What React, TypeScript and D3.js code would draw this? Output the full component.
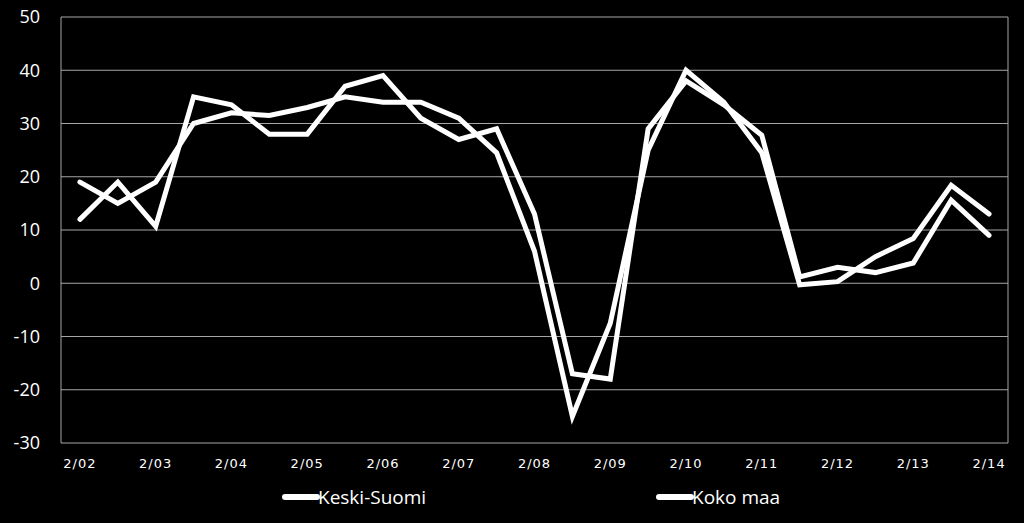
import { useMemo } from "react";
import * as d3 from "d3";

const periods = [
  "2/02", "8/02", "2/03", "8/03", "2/04", "8/04", "2/05", "8/05", "2/06",
  "8/06", "2/07", "8/07", "2/08", "8/08", "2/09", "8/09", "2/10", "8/10",
  "2/11", "8/11", "2/12", "8/12", "2/13", "8/13", "2/14",
];

const keskiSuomi = [
  19, 15, 19, 30, 32, 31.5, 33, 35, 34, 34, 31, 24.5, 6, -25, -7.5, 25, 40,
  34, 24.5, -0.3, 0.3, 5, 8.4, 18.4, 13,
];

const kokoMaa = [
  12, 19, 10.7, 35, 33.5, 28, 28, 37, 39, 31, 27, 29, 13, -17, -18, 29, 38,
  33.5, 27.8, 1.2, 3, 2, 3.8, 15.6, 9,
];

const yTicks = [-30, -20, -10, 0, 10, 20, 30, 40, 50];

const seriesNames = ["Keski-Suomi", "Koko maa"];

const dimensions = {
  width: 1024,
  height: 523,
  margin: { top: 17, right: 16, bottom: 80, left: 61 },
};

export default function App() {
  const { width, height, margin } = dimensions;
  const innerW = width - margin.left - margin.right;
  const innerH = height - margin.top - margin.bottom;

  const xScale = useMemo(
    () => d3.scalePoint().domain(periods).range([0, innerW]).padding(0.5),
    [innerW]
  );

  const yScale = useMemo(
    () => d3.scaleLinear().domain([-30, 50]).range([innerH, 0]),
    [innerH]
  );

  const line = d3
    .line<number>()
    .x((_, i) => xScale(periods[i]) as number)
    .y((d) => yScale(d));

  return (
    <svg
      width={width}
      height={height}
      style={{ position: "absolute", left: 0, top: 0, background: "#000" }}
    >
      <rect width={width} height={height} fill="#000" />
      <g transform={`translate(${margin.left},${margin.top})`}>
        {yTicks.map((t) => (
          <g key={t}>
            <line
              x1={0}
              x2={innerW}
              y1={yScale(t)}
              y2={yScale(t)}
              stroke="#a6a6a6"
              strokeWidth={1}
            />
            <text
              x={-21}
              y={yScale(t)}
              dy="0.35em"
              textAnchor="end"
              fill="#fff"
              fontFamily="'Open Sans', sans-serif"
              fontSize={18}
            >
              {t}
            </text>
          </g>
        ))}
        <line x1={0} x2={0} y1={0} y2={innerH} stroke="#a6a6a6" />
        <line x1={innerW} x2={innerW} y1={0} y2={innerH} stroke="#a6a6a6" />

        {periods.map((p, i) =>
          i % 2 === 0 ? (
            <text
              key={p}
              x={xScale(p)}
              y={innerH + 25}
              textAnchor="middle"
              fill="#fff"
              fontFamily="'DejaVu Sans', sans-serif"
              fontSize={13}
              letterSpacing={1}
            >
              {p}
            </text>
          ) : null
        )}

        {[keskiSuomi, kokoMaa].map((s, i) => (
          <path
            key={i}
            d={line(s) ?? ""}
            fill="none"
            stroke="#fff"
            strokeWidth={5}
            strokeLinejoin="miter"
            strokeLinecap="round"
          />
        ))}
      </g>

      {seriesNames.map((name, i) => {
        const lx = i === 0 ? 285 : 659;
        return (
          <g key={name} transform={`translate(${lx},497)`}>
            <line x1={0} x2={32} y1={0} y2={0} stroke="#fff" strokeWidth={6} strokeLinecap="round" />
            <text
              x={33}
              y={0}
              dy="0.35em"
              fill="#fff"
              fontFamily="'Open Sans', sans-serif"
              fontSize={19}
            >
              {name}
            </text>
          </g>
        );
      })}
    </svg>
  );
}
